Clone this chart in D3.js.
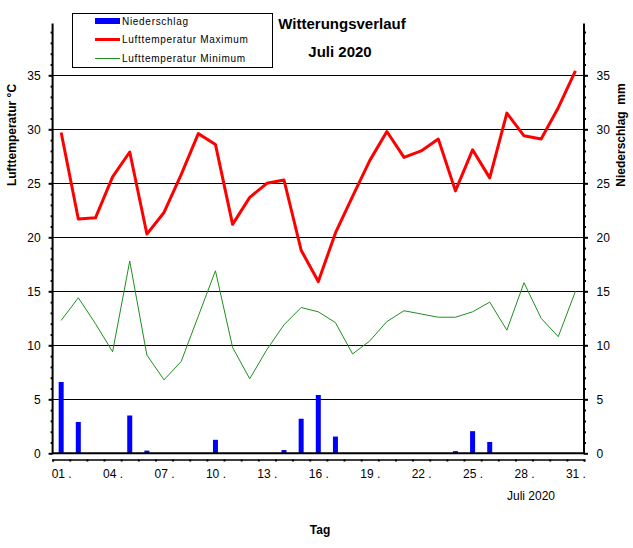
<!DOCTYPE html>
<html>
<head>
<meta charset="utf-8">
<script src="https://cdn.jsdelivr.net/npm/d3@7"></script>
<style>
  body { margin: 0; background: #fff; }
  svg { display: block; font-family: Arial, "Liberation Sans", sans-serif; }
  .tick text { font-size: 12px; fill: #000; }
  .legend-text { font-size: 10px; letter-spacing: 0.7px; }
</style>
</head>
<body>
<div id="chart"></div>
<script>
// Juli 2020, one value per day
const days = [1, 2, 3, 4, 5, 6, 7, 8, 9, 10, 11, 12, 13, 14, 15, 16,
  17, 18, 19, 20, 21, 22, 23, 24, 25, 26, 27, 28, 29, 30, 31];
const tempMax = [29.7, 21.7, 21.8, 25.6, 27.9, 20.3, 22.3, 25.8, 29.6, 28.6, 21.2, 23.7, 25.0, 25.3, 18.8, 15.9,
  20.4, 23.8, 27.1, 29.8, 27.4, 28.0, 29.1, 24.3, 28.1, 25.5, 31.5, 29.4, 29.1, 32.0, 35.4];
const tempMin = [12.3, 14.4, 12.0, 9.4, 17.8, 9.1, 6.8, 8.5, 12.7, 16.9, 9.8, 6.9, 9.6, 11.9, 13.5, 13.1,
  12.1, 9.2, 10.4, 12.2, 13.2, 12.9, 12.6, 12.6, 13.1, 14.0, 11.4, 15.8, 12.5, 10.8, 15.0];
const precip = [6.6, 2.9, 0, 0, 3.5, 0.25, 0, 0, 0, 1.25, 0, 0, 0, 0.3, 3.2, 5.4,
  1.55, 0, 0, 0, 0, 0, 0, 0.2, 2.05, 1.05, 0, 0, 0, 0, 0];
const dayLabels = [1, 4, 7, 10, 13, 16, 19, 22, 25, 28, 31];
const yTicks = [0, 5, 10, 15, 20, 25, 30, 35];
const legendItems = ['Niederschlag', 'Lufttemperatur Maximum', 'Lufttemperatur Minimum'];

var width = 633, height = 548;

var svg = d3.select('#chart')
  .append('svg')
  .attr('width', width)
  .attr('height', height);

// scales: days sit in the middle of their slot
var x = d3.scaleLinear().domain([0.5, 31.5]).range([52.6, 584]);
var yTemp = d3.scaleLinear().domain([0, 35]).range([453.3, 75.3]);
var yRain = d3.scaleLinear().domain([0, 35]).range([453.3, 75.3]);
var yTop = 39.8;

// gridlines
svg.append('g')
  .selectAll('line')
  .data(yTicks.filter(d => d > 0))
  .enter()
  .append('line')
  .attr('x1', x(0.5))
  .attr('x2', x(31.5))
  .attr('y1', d => Math.round(yTemp(d)) + 0.5)
  .attr('y2', d => Math.round(yTemp(d)) + 0.5)
  .attr('stroke', '#000')
  .attr('stroke-width', 1);

// precipitation bars
svg.append('g')
  .selectAll('rect')
  .data(days)
  .enter()
  .append('rect')
  .attr('x', d => x(d) - 2.5)
  .attr('y', (d, i) => yRain(precip[i]))
  .attr('width', 5)
  .attr('height', (d, i) => yRain(0) - yRain(precip[i]))
  .attr('fill', '#0000ff');

// baseline at 0
svg.append('line')
  .attr('x1', x(0.5))
  .attr('x2', x(31.5))
  .attr('y1', yTemp(0))
  .attr('y2', yTemp(0))
  .attr('stroke', '#000')
  .attr('stroke-width', 2);

var lineMax = d3.line()
  .x((d, i) => x(days[i]))
  .y(d => yTemp(d));

svg.append('path')
  .datum(tempMin)
  .attr('d', lineMax)
  .attr('fill', 'none')
  .attr('stroke', '#1f8f1f')
  .attr('stroke-width', 1);

svg.append('path')
  .datum(tempMax)
  .attr('d', lineMax)
  .attr('fill', 'none')
  .attr('stroke', '#ff0000')
  .attr('stroke-width', 3)
  .attr('stroke-linejoin', 'round');

// minor tick values (every degree)
var minorTicks = d3.range(1, 40).filter(d => d % 5 !== 0);

// left axis
var leftG = svg.append('g').attr('transform', 'translate(' + x(0.5) + ',0)');
leftG.call(d3.axisLeft(yTemp).tickValues(yTicks).tickSize(4).tickPadding(8));
leftG.append('g')
  .call(d3.axisLeft(yTemp).tickValues(minorTicks).tickSize(2).tickFormat(''));

// right axis
var rightG = svg.append('g').attr('transform', 'translate(' + x(31.5) + ',0)');
rightG.call(d3.axisRight(yRain).tickValues(yTicks).tickSize(4).tickPadding(8.5));
rightG.append('g')
  .call(d3.axisRight(yRain).tickValues(minorTicks).tickSize(2).tickFormat(''));

svg.selectAll('.domain').remove();
svg.selectAll('.tick line').attr('stroke', '#000').attr('stroke-width', 2);

[x(0.5), x(31.5)].forEach(function (px) {
  svg.append('line')
    .attr('x1', px).attr('x2', px)
    .attr('y1', yTemp(0) + 1)
    .attr('y2', yTemp(yTop))
    .attr('stroke', '#000')
    .attr('stroke-width', 2);
});

// bottom axis, a bit below the zero line
var bottomY = 459.5;
var bottomG = svg.append('g').attr('transform', 'translate(0,' + bottomY + ')');
bottomG.call(d3.axisBottom(x)
  .tickValues(days.map(d => d - 0.5).concat([31.5]))
  .tickSize(2)
  .tickFormat(''));
bottomG.select('.domain').attr('stroke', '#000').attr('stroke-width', 1.5);
bottomG.selectAll('.tick line').attr('stroke', '#000').attr('stroke-width', 2);

var labelG = svg.append('g').attr('transform', 'translate(0,' + bottomY + ')');
labelG.call(d3.axisBottom(x)
  .tickValues(dayLabels)
  .tickSize(0)
  .tickPadding(10)
  .tickFormat(d => d3.format('02d')(d) + ' .'));
labelG.select('.domain').remove();

// axis titles
svg.append('text')
  .attr('transform', 'translate(16,135) rotate(-90)')
  .attr('text-anchor', 'middle')
  .attr('font-size', 12)
  .attr('font-weight', 'bold')
  .text('Lufttemperatur °C');

svg.append('text')
  .attr('transform', 'translate(625,135) rotate(-90)')
  .attr('text-anchor', 'middle')
  .attr('font-size', 12)
  .attr('font-weight', 'bold')
  .attr('xml:space', 'preserve')
  .style('white-space', 'pre')
  .text('Niederschlag  mm');

svg.append('text')
  .attr('x', 320)
  .attr('y', 534)
  .attr('text-anchor', 'middle')
  .attr('font-size', 12)
  .attr('font-weight', 'bold')
  .text('Tag');

svg.append('text')
  .attr('x', 531)
  .attr('y', 500)
  .attr('text-anchor', 'middle')
  .attr('font-size', 12)
  .text('Juli 2020');

// title
svg.append('text')
  .attr('x', 342)
  .attr('y', 29)
  .attr('text-anchor', 'middle')
  .attr('font-size', 15)
  .attr('font-weight', 'bold')
  .text('Witterungsverlauf');

svg.append('text')
  .attr('x', 340)
  .attr('y', 57)
  .attr('text-anchor', 'middle')
  .attr('font-size', 15)
  .attr('font-weight', 'bold')
  .text('Juli 2020');

// legend
var legend = svg.append('g');
legend.append('rect')
  .attr('x', 72.5)
  .attr('y', 13.5)
  .attr('width', 200)
  .attr('height', 54)
  .attr('fill', '#fff')
  .attr('stroke', '#000');

var legendY = d3.scalePoint().domain(legendItems).range([21, 58]);

legend.append('rect')
  .attr('x', 95)
  .attr('y', legendY(legendItems[0]) - 3)
  .attr('width', 25)
  .attr('height', 6)
  .attr('fill', '#0000ff');

legend.append('line')
  .attr('x1', 95).attr('x2', 120)
  .attr('y1', legendY(legendItems[1]))
  .attr('y2', legendY(legendItems[1]))
  .attr('stroke', '#ff0000')
  .attr('stroke-width', 3);

legend.append('line')
  .attr('x1', 95).attr('x2', 120)
  .attr('y1', legendY(legendItems[2]) + 0.5)
  .attr('y2', legendY(legendItems[2]) + 0.5)
  .attr('stroke', '#1f8f1f')
  .attr('stroke-width', 1);

legend.selectAll('.legend-text')
  .data(legendItems)
  .enter()
  .append('text')
  .attr('class', 'legend-text')
  .attr('x', 122)
  .attr('y', d => legendY(d))
  .attr('dy', '0.35em')
  .text(d => d);
</script>
</body>
</html>
